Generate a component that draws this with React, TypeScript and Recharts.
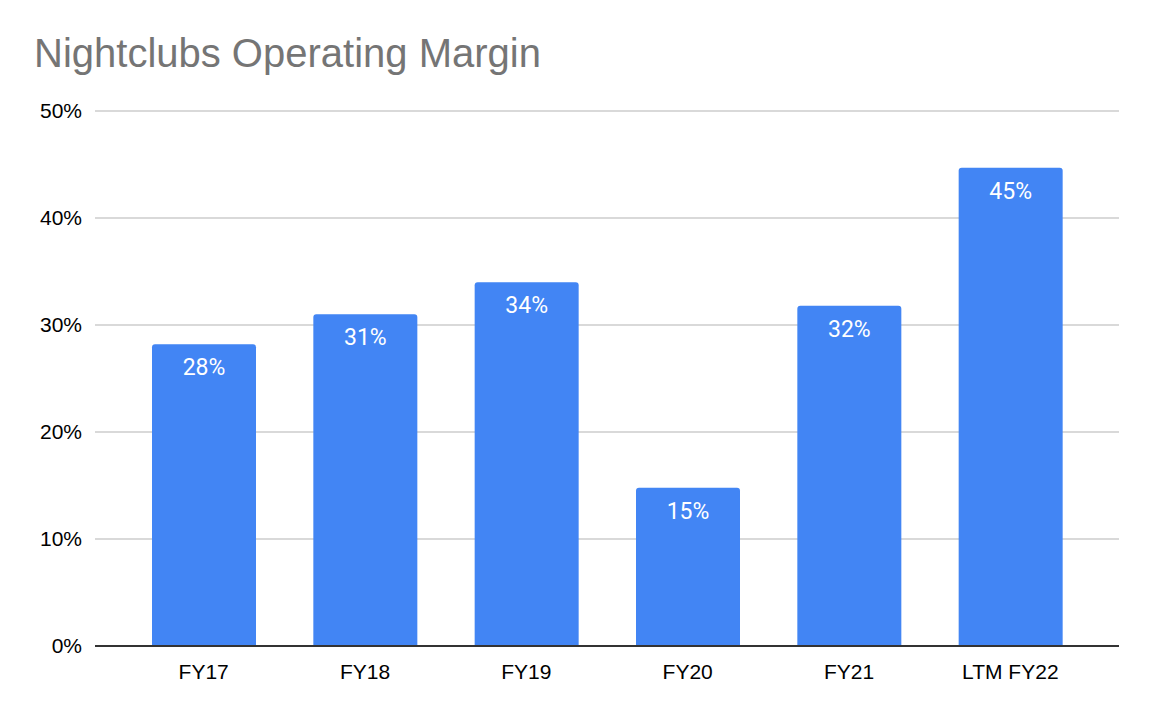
import { BarChart, Bar, XAxis, YAxis, CartesianGrid, LabelList } from 'recharts';

const categories = ['FY17', 'FY18', 'FY19', 'FY20', 'FY21', 'LTM FY22'];
const margins = [28.2, 31.0, 34.0, 14.8, 31.8, 44.7];
const marginLabels = ['28%', '31%', '34%', '15%', '32%', '45%'];
const yTicks = [0, 10, 20, 30, 40, 50];

const data = categories.map((name, i) => ({
  name,
  value: margins[i],
  label: marginLabels[i],
}));

// value label drawn inside the top of each bar
const BarLabel = (props: any) => {
  const { x, y, width, index } = props;
  return (
    <text
      x={x + width / 2}
      y={y + 31}
      textAnchor="middle"
      fill="#ffffff"
      fontSize={23}
      fontFamily="Roboto, sans-serif"
    >
      {marginLabels[index]}
    </text>
  );
};

export default function App() {
  return (
    <div
      style={{
        position: 'absolute',
        left: 0,
        top: 0,
        width: 1154,
        height: 718,
        background: '#fff',
        fontFamily: '"Liberation Sans", Arial, sans-serif',
      }}
    >
      <div
        style={{
          position: 'absolute',
          left: 34,
          top: 30,
          fontSize: 40,
          lineHeight: '46px',
          color: '#757575',
        }}
      >
        Nightclubs Operating Margin
      </div>
      <BarChart
        width={1154}
        height={718}
        data={data}
        margin={{ top: 111, right: 35, bottom: 42, left: 0 }}
      >
        <CartesianGrid vertical={false} stroke="#cccccc" strokeWidth={1.5} />
        <XAxis
          dataKey="name"
          padding={{ left: 28, right: 28 }}
          axisLine={{ stroke: '#333333', strokeWidth: 2 }}
          tickLine={false}
          tickMargin={12}
          tick={{ fill: '#000000', fontSize: 21 }}
          interval={0}
        />
        <YAxis
          width={95}
          domain={[0, 50]}
          ticks={yTicks}
          tickFormatter={(v: number) => `${v}%`}
          axisLine={false}
          tickLine={false}
          tickSize={0}
          tickMargin={13}
          tick={{ fill: '#000000', fontSize: 21 }}
        />
        <Bar dataKey="value" fill="#4285f4" barSize={104} radius={[3, 3, 0, 0]} isAnimationActive={false}>
          <LabelList dataKey="label" content={<BarLabel />} />
        </Bar>
      </BarChart>
    </div>
  );
}
